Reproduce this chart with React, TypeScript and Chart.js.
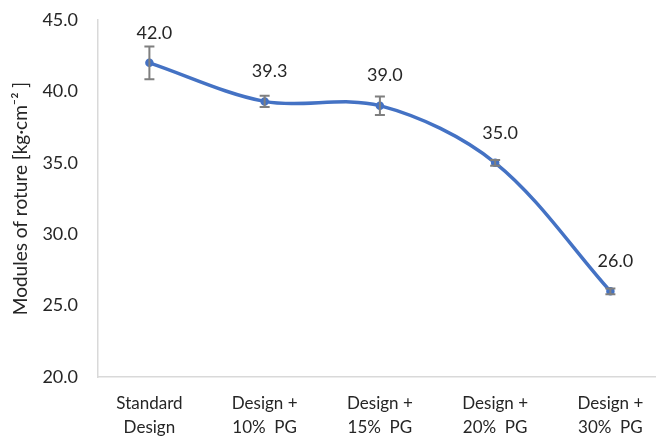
import React, { useEffect, useRef } from "react";
import { Chart, registerables } from "chart.js";

Chart.register(...registerables);

const categories: string[][] = [
  ["Standard", "Design"],
  ["Design +", "10%  PG"],
  ["Design +", "15%  PG"],
  ["Design +", "20%  PG"],
  ["Design +", "30%  PG"],
];
const values: number[] = [42.0, 39.3, 39.0, 35.0, 26.0];
const errors: number[] = [1.15, 0.4, 0.65, 0.2, 0.2];
const yTicks: number[] = [20, 25, 30, 35, 40, 45];
const yTitle = "Modules of roture [kg\u00b7cm\u207b\u00b2 ]";

const FONT = "Lato, 'Open Sans', sans-serif";
const TEXT = "#262626";

const errorBarPlugin = {
  id: "errorBars",
  afterDatasetsDraw(chart: any) {
    const ctx = chart.ctx;
    const xs = chart.scales.x;
    const ys = chart.scales.y;
    ctx.save();
    ctx.strokeStyle = "#7f7f7f";
    ctx.lineWidth = 2;
    values.forEach((v, i) => {
      const x = xs.getPixelForValue(i);
      const yt = ys.getPixelForValue(v + errors[i]);
      const yb = ys.getPixelForValue(v - errors[i]);
      ctx.beginPath();
      ctx.moveTo(x, yt);
      ctx.lineTo(x, yb);
      ctx.moveTo(x - 5, yt);
      ctx.lineTo(x + 5, yt);
      ctx.moveTo(x - 5, yb);
      ctx.lineTo(x + 5, yb);
      ctx.stroke();
    });
    ctx.restore();
  },
  afterDraw(chart: any) {
    const ctx = chart.ctx;
    const xs = chart.scales.x;
    const ys = chart.scales.y;
    ctx.save();
    ctx.fillStyle = TEXT;
    ctx.font = `18px ${FONT}`;
    ctx.textAlign = "center";
    ctx.textBaseline = "middle";
    values.forEach((v, i) => {
      const x = xs.getPixelForValue(i);
      const y = ys.getPixelForValue(v);
      ctx.fillText(v.toFixed(1), x + 5, y - 30);
    });
    ctx.restore();
  },
};

export default function App() {
  const ref = useRef<HTMLCanvasElement | null>(null);
  useEffect(() => {
    if (!ref.current) return;
    const chart = new Chart(ref.current, {
      type: "line",
      data: {
        datasets: [
          {
            data: values.map((v, i) => ({ x: i, y: v })),
            borderColor: "#4472C4",
            backgroundColor: "#4472C4",
            borderWidth: 3.5,
            pointRadius: 2.5,
            pointHoverRadius: 2.5,
            tension: 0.33,
            fill: false,
          },
        ],
      },
      options: {
        responsive: false,
        animation: false,
        devicePixelRatio: 1,
        layout: { padding: { top: 20, right: 1, left: 0, bottom: 0 } },
        plugins: {
          legend: { display: false },
          tooltip: { enabled: false },
        },
        scales: {
          x: {
            type: "linear",
            min: -0.446,
            max: 4.387,
            afterBuildTicks: (scale: any) => {
              scale.ticks = categories.map((_, i) => ({ value: i }));
            },
            afterFit: (scale: any) => {
              scale.height = 60;
              scale.paddingLeft = 0;
              scale.paddingRight = 0;
            },
            grid: { display: true, drawOnChartArea: false, drawTicks: false, color: "#d9d9d9" },
            border: { display: true, color: "#d9d9d9", width: 1.5 },
            ticks: {
              autoSkip: false,
              maxRotation: 0,
              padding: 14,
              color: TEXT,
              font: { family: FONT, size: 17, lineHeight: 1.42 },
              callback: (v: any) => categories[Math.round(Number(v))] ?? "",
            },
          },
          y: {
            min: 20,
            max: 45,
            afterBuildTicks: (scale: any) => {
              scale.ticks = yTicks.map((v) => ({ value: v }));
            },
            afterFit: (scale: any) => {
              scale.width = 98;
              scale.paddingTop = 0;
              scale.paddingBottom = 0;
            },
            grid: { display: true, drawOnChartArea: false, drawTicks: false, color: "#d9d9d9" },
            border: { display: true, color: "#d9d9d9", width: 1.5 },
            ticks: {
              padding: 20,
              color: TEXT,
              font: { family: FONT, size: 18 },
              callback: (v: any) => Number(v).toFixed(1),
            },
            title: {
              display: true,
              text: yTitle,
              color: TEXT,
              font: { family: FONT, size: 19 },
              padding: { top: 9, bottom: 0 },
            },
          },
        },
      },
      plugins: [errorBarPlugin],
    });
    return () => chart.destroy();
  }, []);
  return (
    <div style={{ position: "fixed", left: 0, top: 0, width: 661, height: 437, background: "#fff" }}>
      <canvas ref={ref} width={661} height={437} style={{ width: 661, height: 437 }} />
    </div>
  );
}
